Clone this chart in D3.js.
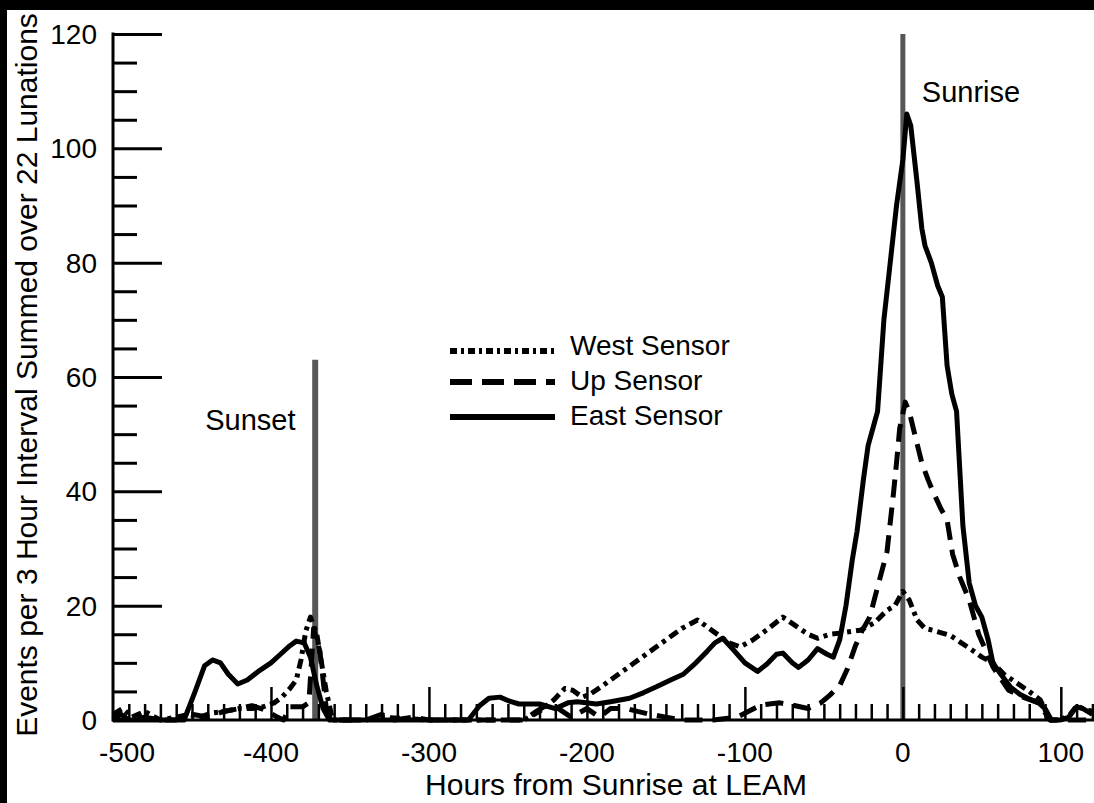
<!DOCTYPE html>
<html lang="en">
<head>
    <meta charset="UTF-8">
    <title>Events per 3 Hour Interval</title>
    <script src="https://d3js.org/d3.v7.min.js"></script>
    <style>
        body { margin: 0; background: #000; }
        svg text { font-family: "Liberation Sans", Arial, sans-serif; fill: #000; }
    </style>
</head>
<body>
    <svg></svg>
    <script>
        // hours from sunrise, event counts
        const eastPts = [[-500,0],[-455,0],[-448,5],[-442,9.5],[-437,10.5],[-432,10],[-427,8],[-421,6.3],[-415,7],[-408,8.5],
            [-400,10],[-394,11.5],[-388,13],[-384,13.8],[-379,13.5],[-375,11],[-371,6],[-367,2],[-363,0],[-275,0],
            [-268,2.5],[-262,3.8],[-255,4],[-249,3.3],[-243,2.8],[-230,2.8],[-220,2],[-212,3],[-206,3.2],[-194,2.8],
            [-185,3.2],[-173,3.8],[-164,4.8],[-156,5.8],[-147,7],[-139,8],[-131,10],[-124,12],[-119,13.5],[-114,14.3],
            [-108,12.5],[-100,10],[-92,8.5],[-86,9.8],[-80,11.5],[-76,11.7],[-70,10],[-66,9.2],[-60,10.5],[-54,12.5],
            [-48,11.5],[-44,11],[-40,14],[-36,20],[-32,28],[-29,33],[-25,42],[-22,48],[-18,52],[-16,54],[-12,70],
            [-8,80],[-4,90],[0,98],[2.5,106],[5,104],[9,94],[12,86],[14,83],[18,80],[22,76],[25,74],[28,62],[31,57],
            [34,54],[38,34],[42,24],[46,20],[50,18],[54,14],[57,10],[62,8],[68,5.8],[74,4.5],[79,3.8],[86,3],[90,2],
            [94,0],[100,0],[105,0.5],[110,2.3],[114,2],[120,1]];

        const upPts = [[-500,0],[-495,1],[-490,0],[-480,0.5],[-470,0],[-460,0],[-450,1],[-440,0.5],[-430,1.5],[-420,2],
            [-412,2.5],[-404,1.8],[-396,0.5],[-392,0],[-388,2.3],[-380,2.3],[-376,3],[-373,16],[-369,12],[-365,2],
            [-362,0],[-340,0],[-330,1],[-322,0],[-310,0.5],[-300,0],[-240,0],[-232,1.5],[-226,2.5],[-218,2],[-210,0.5],
            [-200,2],[-192,0.5],[-185,2],[-175,2],[-168,1.5],[-160,1],[-150,0.5],[-140,0],[-120,0],[-105,0.5],[-90,2.6],
            [-78,3],[-70,2.6],[-60,2],[-52,3],[-46,4.4],[-40,6],[-35,9],[-30,13],[-26,15.5],[-21,18],[-16.5,22.7],
            [-10,29.5],[-6,39.5],[-4,45],[-2,51],[1.5,55.6],[4,54],[7.5,50],[12,45],[16,42],[19,40],[24,37],[28,35],
            [31.5,29],[36,25],[42,21],[48,15],[57,9.3],[67,5.2],[76,4],[86,3],[93,0],[120,0]];

        const westPts = [[-500,1],[-494,2],[-488,0.5],[-480,1.5],[-470,0],[-460,0.5],[-452,1],[-445,0.5],[-438,1.2],
            [-430,1.5],[-420,2],[-412,2],[-405,2.3],[-398,3],[-393,4],[-388,5.5],[-384,7],[-381,10.5],[-378,15.5],
            [-375,18],[-371,15],[-368,10],[-365,5],[-361,0],[-340,0],[-330,0.5],[-300,0],[-240,0],[-230,1.5],[-221,3.5],
            [-214,5.5],[-209,5.2],[-203,4],[-198,4.5],[-190,6],[-180,8],[-170,10],[-160,12],[-150,14],[-140,16],
            [-130,17.5],[-120,15.5],[-110,13.5],[-103,12.8],[-95,14],[-85,16],[-76,18],[-68,16.5],[-60,15],[-54,14.3],
            [-46,15],[-40,15.2],[-27,15.7],[-18,17],[-10,19.2],[-5,20],[0,22.5],[4,21],[9,17.5],[14,16],[19,15.7],
            [25,15.2],[30,14.8],[37,13.5],[44,12.2],[50,11],[57,10],[64,8],[72,6.5],[80,5],[87,3.5],[93,0],[100,0],
            [106,1],[110,2.5],[114,2],[120,1.5]];

        const markers = [{ hour: -372, top: 63, label: "Sunset" }, { hour: 0, top: 120, label: "Sunrise" }];
        const xTicks = [-500, -400, -300, -200, -100, 0, 100];
        const yTicks = [0, 20, 40, 60, 80, 100, 120];

        const series = [
            { name: "West Sensor", pts: westPts, dash: "10,5,4,5" },
            { name: "Up Sensor", pts: upPts, dash: "18,10" },
            { name: "East Sensor", pts: eastPts, dash: null }
        ];

        const W = 1094, H = 803;
        const svg = d3.select("svg").attr("width", W).attr("height", H);

        svg.append("rect").attr("width", W).attr("height", H).attr("fill", "#000");
        svg.append("rect").attr("x", 7).attr("y", 10).attr("width", W - 7).attr("height", H - 10).attr("fill", "#fff");

        const x = d3.scaleLinear().domain([-500, 121]).range([113, 1094]);
        const y = d3.scaleLinear().domain([0, 120]).range([720, 34]);

        // grey sunset / sunrise markers
        svg.append("g").selectAll("line")
            .data(markers)
            .join("line")
            .attr("x1", d => x(d.hour)).attr("x2", d => x(d.hour))
            .attr("y1", d => y(d.top)).attr("y2", y(0))
            .attr("stroke", "#575757")
            .attr("stroke-width", (d, i) => i === 0 ? 6 : 5);

        svg.append("text").attr("x", x(-372) - 110).attr("y", 430).attr("font-size", 29).text("Sunset");
        svg.append("text").attr("x", x(0) + 19).attr("y", 102).attr("font-size", 29).text("Sunrise");

        // y axis, ticks inward
        const yAxis = d3.axisRight(y)
            .tickValues(d3.range(0, 121, 5))
            .tickSize(24)
            .tickFormat("");
        const gy = svg.append("g").attr("transform", "translate(113,0)").call(yAxis);
        gy.select(".domain").remove();
        gy.selectAll(".tick line")
            .attr("x2", d => d % 20 === 0 ? 49 : 24)
            .attr("stroke", "#000").attr("stroke-width", 3);
        svg.append("line").attr("x1", 113).attr("x2", 113).attr("y1", y(120) - 1.5).attr("y2", y(0) + 1.5)
            .attr("stroke", "#000").attr("stroke-width", 3);
        svg.append("g").selectAll("text")
            .data(yTicks)
            .join("text")
            .attr("x", 97).attr("y", d => y(d) + 10)
            .attr("text-anchor", "end").attr("font-size", 28)
            .text(d => d);

        // x axis, ticks upward
        const xAxis = d3.axisTop(x)
            .tickValues(d3.range(-490, 121, 10))
            .tickSize(16)
            .tickFormat("");
        const gx = svg.append("g").attr("transform", `translate(0,${y(0)})`).call(xAxis);
        gx.select(".domain").remove();
        gx.selectAll(".tick line")
            .attr("y2", d => d % 100 === 0 ? -33 : -16)
            .attr("stroke", "#000").attr("stroke-width", 2.5);
        svg.append("line").attr("x1", 112).attr("x2", W).attr("y1", y(0)).attr("y2", y(0))
            .attr("stroke", "#000").attr("stroke-width", 3);
        svg.append("g").selectAll("text")
            .data(xTicks)
            .join("text")
            .attr("x", (d, i) => x(d) + (i === 0 ? 14 : 0)).attr("y", 762)
            .attr("text-anchor", "middle").attr("font-size", 28)
            .text(d => d);

        svg.append("text").attr("x", 616).attr("y", 795).attr("text-anchor", "middle")
            .attr("font-size", 30).text("Hours from Sunrise at LEAM");
        svg.append("text").attr("transform", "translate(37,375) rotate(-90)").attr("text-anchor", "middle")
            .attr("font-size", 30).text("Events per 3 Hour Interval Summed over 22 Lunations");

        // data lines
        const line = d3.line().x(d => x(d[0])).y(d => y(d[1]));
        svg.append("g").selectAll("path")
            .data(series)
            .join("path")
            .attr("d", d => line(d.pts))
            .attr("fill", "none")
            .attr("stroke", "#000")
            .attr("stroke-width", 5)
            .attr("stroke-linejoin", "round")
            .attr("stroke-dasharray", d => d.dash);

        // legend
        const legendY = [351, 382, 417];
        const legend = svg.append("g").selectAll("g")
            .data(series)
            .join("g")
            .attr("transform", (d, i) => `translate(450,${legendY[i]})`);
        legend.append("line")
            .attr("x1", 0).attr("x2", 105)
            .attr("stroke", "#000").attr("stroke-width", 6)
            .attr("stroke-dasharray", d => d.name === "West Sensor" ? "7,4,3,4" : d.name === "Up Sensor" ? "22,10" : null);
        legend.append("text")
            .attr("x", 120).attr("y", (d, i) => [4, 8, 8][i])
            .attr("font-size", 28)
            .text(d => d.name);
    </script>
</body>
</html>
